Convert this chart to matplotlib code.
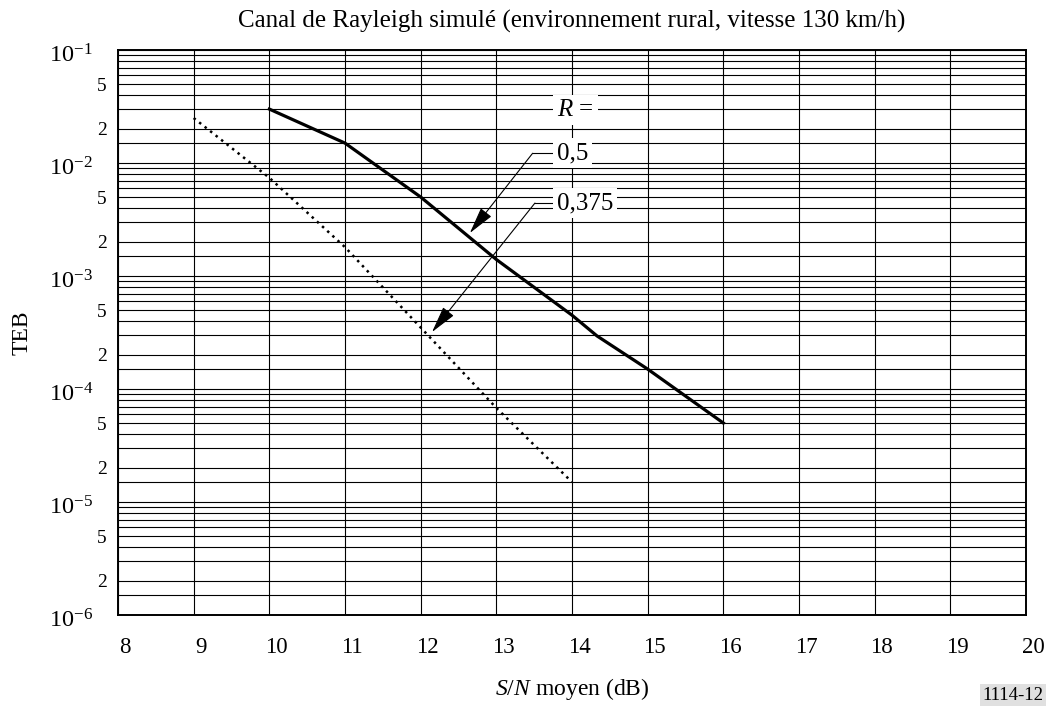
import numpy as np
import matplotlib
matplotlib.use('Agg')
import matplotlib.pyplot as plt
import matplotlib.ticker as mticker
import matplotlib.transforms as mtransforms

plt.rcParams['font.family'] = ['Liberation Serif', 'DejaVu Serif']
plt.rcParams['mathtext.fontset'] = 'custom'
plt.rcParams['mathtext.rm'] = 'Liberation Serif'
plt.rcParams['mathtext.it'] = 'Liberation Serif:italic'

# R = 0,5 (trait plein)
snr_r05 = [10, 11, 12, 13, 14, 14.33, 15, 16]
teb_r05 = [3e-2, 1.5e-2, 5e-3, 1.4e-3, 4.5e-4, 2.95e-4, 1.5e-4, 5e-5]

# R = 0,375 (pointillé)
snr_r0375 = [9, 10, 11, 12, 13, 14]
teb_r0375 = [2.5e-2, 7.4e-3, 1.8e-3, 3.5e-4, 6.8e-5, 1.5e-5]

x_ticks = list(range(8, 21))
grid_subs = [1.5, 2, 3, 4, 5, 6, 7, 8, 9]
labelled_subs = [2, 5]

fig = plt.figure(figsize=(10.52, 7.06), dpi=100)
ax = fig.add_axes([118 / 1052, 1 - 615 / 706, 908 / 1052, 565 / 706])

ax.plot(snr_r05, teb_r05, color='black', lw=2.3, solid_joinstyle='miter')
ax.plot(snr_r0375, teb_r0375, color='black', lw=1.8, linestyle=(0, (1, 1.8)))

ax.set_yscale('log')
ax.set_xlim(8, 20)
ax.set_ylim(1e-6, 1e-1)
ax.set_xticks(x_ticks)
ax.yaxis.set_major_locator(mticker.LogLocator(base=10, numticks=10))
ax.yaxis.set_major_formatter(mticker.LogFormatterMathtext())
ax.yaxis.set_minor_locator(mticker.LogLocator(base=10, subs=grid_subs, numticks=20))


def minor_fmt(v, pos):
    m = v / 10 ** np.floor(np.log10(v) + 1e-9)
    for s in labelled_subs:
        if abs(m - s) < 1e-3:
            return str(s)
    return ''


ax.yaxis.set_minor_formatter(mticker.FuncFormatter(minor_fmt))

ax.grid(True, which='both', color='black', lw=0.8)
ax.set_axisbelow(True)
for sp in ax.spines.values():
    sp.set_linewidth(1.4)

ax.tick_params(axis='x', which='both', length=0, labelsize=16.5, pad=16)
ax.tick_params(axis='y', which='major', length=0, labelsize=17.5, pad=18)
ax.tick_params(axis='y', which='minor', length=0, labelsize=14, pad=8)

off = mtransforms.ScaledTranslation(7 / 100, 0, fig.dpi_scale_trans)
for lab in ax.get_xticklabels():
    lab.set_transform(lab.get_transform() + off)
down = mtransforms.ScaledTranslation(0, -3 / 100, fig.dpi_scale_trans)
for lab in ax.get_yticklabels():
    lab.set_transform(lab.get_transform() + down)

ax.set_title('Canal de Rayleigh simulé (environnement rural, vitesse 130 km/h)',
             fontsize=18, pad=16)
ax.set_xlabel(r'$S$/$N$ moyen (dB)', fontsize=17)
ax.xaxis.set_label_coords(0.5, -0.108)
ax.set_ylabel('TEB', fontsize=17)
ax.yaxis.set_label_coords(-0.0945, 0.5)

# légende R =
box = dict(facecolor='white', edgecolor='none', pad=3)
ax.text(13.80, 2.95e-2, r'$R$ =', fontsize=18, va='center', ha='left', bbox=box)
ax.text(13.80, 1.22e-2, '0,5', fontsize=18, va='center', ha='left', bbox=box)
ax.text(13.80, 4.42e-3, '0,375', fontsize=18, va='center', ha='left', bbox=box)

arrow = dict(arrowstyle='-|>,head_length=1.2,head_width=0.3', color='black',
             lw=0.8, mutation_scale=14, shrinkA=0, shrinkB=0)
ax.plot([13.48, 13.75], [1.22e-2, 1.22e-2], color='black', lw=0.8)
ax.annotate('', xy=(12.65, 2.4e-3), xytext=(13.48, 1.22e-2), arrowprops=arrow)
ax.plot([13.51, 13.78], [4.42e-3, 4.42e-3], color='black', lw=0.8)
ax.annotate('', xy=(12.15, 3.19e-4), xytext=(13.51, 4.42e-3), arrowprops=arrow)

fig.text(1013 / 1052, 1 - 695 / 706, '1114-12', fontsize=13.5, ha='center', va='center',
         bbox=dict(facecolor='#e0e0e0', edgecolor='none', pad=1.5))

fig.savefig('out.png', dpi=100)
